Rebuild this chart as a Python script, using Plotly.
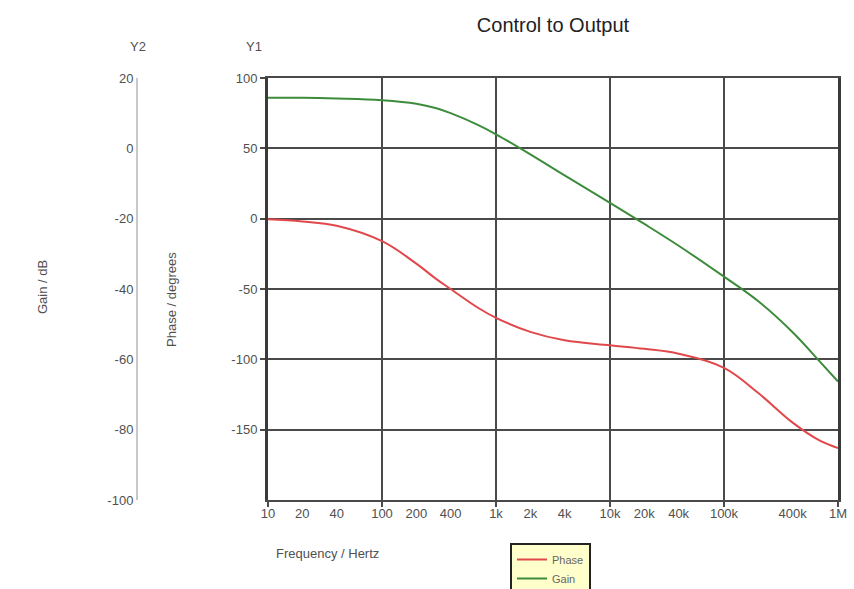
import plotly.graph_objects as go

freq_hz = [10, 20, 40, 100, 200, 300, 400, 700, 1000, 2000, 4000, 10000, 20000,
           40000, 100000, 200000, 400000, 700000, 1000000]
gain_db = [14.4, 14.4, 14.2, 13.7, 12.7, 11.4, 10.0, 6.6, 4.0, -1.7, -7.7, -15.5,
           -21.5, -27.7, -36.5, -43.5, -52.3, -60.8, -66.3]
phase_deg = [-0.5, -2, -5, -16, -32, -43, -50, -63.5, -70.5, -80.5, -86.5, -90,
             -92.5, -96, -106, -124, -145, -158, -163]

x_tick_vals = [10, 20, 40, 100, 200, 400, 1000, 2000, 4000, 10000, 20000, 40000,
               100000, 400000, 1000000]
x_tick_text = ["10", "20", "40", "100", "200", "400", "1k", "2k", "4k", "10k", "20k",
               "40k", "100k", "400k", "1M"]
decades = [10, 100, 1000, 10000, 100000, 1000000]
y1_ticks = [100, 50, 0, -50, -100, -150]
y2_ticks = [20, 0, -20, -40, -60, -80, -100]

W, H = 854, 589
L, R, T, B = 268, 838, 78, 500

def px(x):
    return x / W

def py(y):
    return (B - y) / (B - T)

font_fam = "Liberation Sans, Arial, sans-serif"
gray = "#505050"
grid = "#4a4a4a"

fig = go.Figure()
fig.add_trace(go.Scatter(x=freq_hz, y=phase_deg, name="Phase", mode="lines",
                         line=dict(color="#e0484c", width=2, shape="spline",
                                   smoothing=1.1),
                         yaxis="y"))
fig.add_trace(go.Scatter(x=freq_hz, y=gain_db, name="Gain", mode="lines",
                         line=dict(color="#3c8c3c", width=2, shape="spline",
                                   smoothing=1.1),
                         yaxis="y2"))

fig.update_layout(
    width=W, height=H,
    margin=dict(l=0, r=0, t=T, b=H - B, autoexpand=False),
    paper_bgcolor="white", plot_bgcolor="white",
    font=dict(family=font_fam, size=13, color=gray),
    title=dict(text="Control to Output", x=(L + R) / 2 / W, xref="container",
               xanchor="center", y=1 - 25 / H, yref="container", yanchor="middle",
               font=dict(size=20, color="#222222", family=font_fam)),
    xaxis=dict(type="log", range=[1, 6], domain=[px(L), px(R)],
               tickmode="array", tickvals=x_tick_vals, ticktext=x_tick_text,
               showgrid=False, ticks="", ticklen=0,
               showline=True, linecolor=grid, linewidth=2, mirror=True,
               tickfont=dict(size=13, color=gray),
               minor=dict(tickmode="array", tickvals=decades, showgrid=True,
                          gridcolor=grid, gridwidth=1.5, ticks="outside",
                          ticklen=5, tickcolor=grid, tickwidth=1.5),
               zeroline=False, automargin=False),
    yaxis=dict(range=[-200, 100], tickmode="array", tickvals=y1_ticks,
               ticktext=[str(v) for v in y1_ticks],
               showgrid=True, gridcolor=grid, gridwidth=1.5,
               showline=True, linecolor="#3a3a3a", linewidth=3, mirror=True,
               ticks="outside", ticklen=5, tickcolor=grid, tickwidth=1.5,
               tickfont=dict(size=13, color=gray), zeroline=False,
               automargin=False),
    yaxis2=dict(range=[-100, 20], overlaying="y", anchor="free", side="left",
                position=px(137), tickmode="array", tickvals=y2_ticks,
                ticktext=[str(v) for v in y2_ticks],
                showgrid=False, showline=True, linecolor="#c8c8c8", linewidth=2,
                ticks="", tickfont=dict(size=13, color=gray), zeroline=False,
                automargin=False),
    legend=dict(x=px(510), y=1 - 543 / H, xref="container", yref="container",
                xanchor="left", yanchor="top",
                bgcolor="#ffffcc", bordercolor="#222222", borderwidth=2,
                font=dict(size=11, color="#666666"), tracegroupgap=0,
                itemwidth=30),
    showlegend=True,
)

annots = [
    dict(text="Y2", x=px(138), y=py(47)),
    dict(text="Y1", x=px(254), y=py(47)),
    dict(text="Gain / dB", x=px(42), y=py(287), textangle=-90),
    dict(text="Phase / degrees", x=px(171), y=py(300), textangle=-90),
    dict(text="Frequency / Hertz", x=px(327), y=py(553)),
]
for a in annots:
    fig.add_annotation(xref="paper", yref="paper", showarrow=False,
                       xanchor="center", yanchor="middle",
                       font=dict(size=13, color=gray, family=font_fam), **a)

fig.write_html("out.html")
